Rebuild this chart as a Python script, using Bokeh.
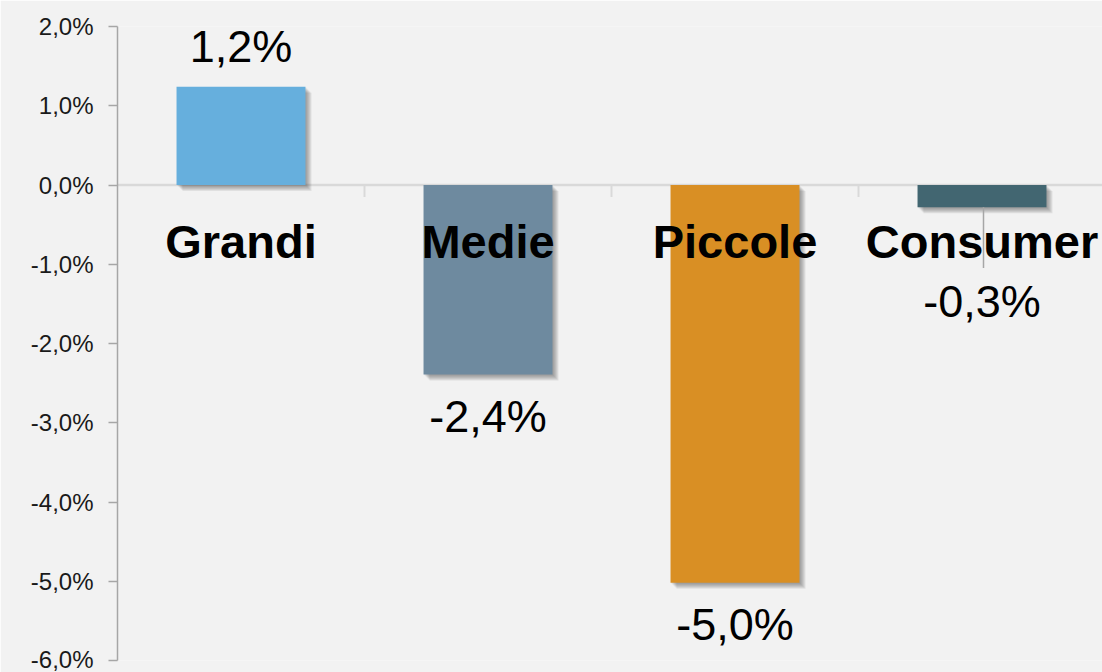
from bokeh.plotting import figure
from bokeh.models import Range1d, FixedTicker, Span, ColumnDataSource
from bokeh.core.properties import value
from bokeh.embed import file_html
from bokeh.resources import INLINE

# ---- data ----
categories = ["Grandi", "Medie", "Piccole", "Consumer"]
values = [1.24, -2.39, -5.02, -0.28]
colors = ["#66afdd", "#6e8a9f", "#d98f24", "#426671"]
y_ticks = [-6, -5, -4, -3, -2, -1, 0, 1, 2]
y_tick_labels = ["-6,0%", "-5,0%", "-4,0%", "-3,0%", "-2,0%", "-1,0%", "0,0%", "1,0%", "2,0%"]


def fmt(v):
    return f"{v:.1f}".replace(".", ",") + "%"


value_labels = [fmt(v) for v in values]

# ---- layout constants ----
W, H = 1102, 672
LEFT, TOP, BOTTOM = 117, 26, 12
BAND_PX = 247.0
x_end = (W - LEFT) / BAND_PX
px_y = (H - TOP - BOTTOM) / 8.0  # pixels per 1%
BAR_W = 0.522
BG = "#f2f2f2"
FONT = value("Liberation Sans")
TEXT_SHIFT = 17 / px_y  # compensate renderer baseline offset

xs = [i + 0.5 for i in range(len(categories))]

p = figure(width=W, height=H, output_backend="svg", toolbar_location=None,
           x_range=Range1d(0, x_end), y_range=Range1d(-6, 2),
           min_border_left=LEFT, min_border_top=TOP, min_border_bottom=BOTTOM,
           min_border_right=0, title=None)
p.background_fill_color = BG
p.border_fill_color = BG
p.outline_line_color = None
p.grid.visible = False
p.xaxis.visible = False

# y axis
ya = p.yaxis[0]
ya.ticker = FixedTicker(ticks=y_ticks)
ya.major_label_overrides = {t: l for t, l in zip(y_ticks, y_tick_labels)}
ya.axis_line_color = "#a6a6a6"
ya.axis_line_width = 1.5
ya.major_tick_line_color = "#a6a6a6"
ya.major_tick_line_width = 1.5
ya.major_tick_in = 0
ya.major_tick_out = 9
ya.minor_tick_line_color = None
ya.major_label_standoff = 15
ya.major_label_text_font = "Liberation Sans"
ya.major_label_text_font_size = "24px"
ya.major_label_text_color = "#1a1a1a"

# zero line
zero = Span(location=0, dimension="width", line_color="#d9d9d9", line_width=2.5, level="underlay")
p.add_layout(zero)

# category separators (small ticks below zero line)
sep_x = [i for i in range(1, len(categories))]
p.segment(x0=sep_x, x1=sep_x, y0=[0] * len(sep_x), y1=[-12 / px_y] * len(sep_x),
          line_color="#d9d9d9", line_width=2)

# shadows
for k in range(1, 7):
    dx = k / BAND_PX
    dy = k / px_y
    p.quad(left=[x - BAR_W / 2 + dx for x in xs], right=[x + BAR_W / 2 + dx for x in xs],
           top=[max(v, 0) - dy for v in values], bottom=[min(v, 0) - dy for v in values],
           fill_color="#404040", fill_alpha=0.1, line_color=None)

# bars
src = ColumnDataSource(dict(x=xs, top=values, color=colors))
p.vbar(x="x", top="top", bottom=0, width=BAR_W, fill_color="color", line_color=None, source=src)

# value label baselines: above positive bars, below negative ones, clear of category labels
label_y = []
for v in values:
    if v > 0:
        label_y.append(v + 23 / px_y)
    else:
        label_y.append(min(v - 59 / px_y, -133 / px_y))

# leader lines for moved labels
for x, v, ly in zip(xs, values, label_y):
    natural = v - 59 / px_y
    if v < 0 and ly < natural - 1e-9:
        p.segment(x0=[x + 1.5 / BAND_PX], x1=[x + 1.5 / BAND_PX], y0=[v], y1=[ly + 50 / px_y],
                  line_color="#a6a6a6", line_width=1.5)

# category labels
p.text(x=xs, y=[-73 / px_y + TEXT_SHIFT] * len(xs), text=categories, text_font=FONT,
       text_font_size="47px", text_font_style="bold", text_color="#000000",
       text_align="center", text_baseline="alphabetic")

# value labels
p.text(x=xs, y=[ly + TEXT_SHIFT for ly in label_y], text=value_labels, text_font=FONT,
       text_font_size="45px", text_color="#000000", text_align="center",
       text_baseline="alphabetic")

open("out.html", "w").write(file_html(p, INLINE))
